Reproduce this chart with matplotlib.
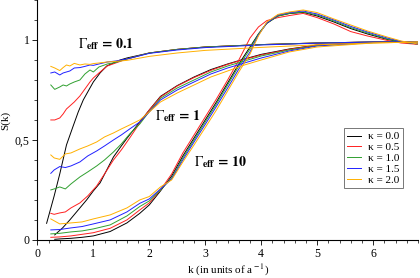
import matplotlib
matplotlib.use("Agg")
import matplotlib.pyplot as plt
from matplotlib.ticker import MultipleLocator

plt.rcParams['font.family'] = ['Liberation Serif', 'DejaVu Serif']
plt.rcParams['mathtext.fontset'] = 'stix'

kappas = ['0.0', '0.5', '1.0', '1.5', '2.0']
colors = ['black', '#ff2020', '#30a030', '#2020ff', '#ffb000']

# Gamma_eff = 0.1
k01 = [0.24, 0.31, 0.4, 0.46, 0.52, 0.58, 0.66, 0.76, 0.85, 0.94, 1.0, 1.1, 1.25, 1.4, 1.6, 2.0, 2.5, 3.0, 4.0, 5.0, 6.0, 6.8]
k01_black = [0.165, 0.3, 0.4, 0.52, 0.64, 0.73, 0.82, 0.91, 1.0, 1.12, 1.24, 1.36, 1.48, 1.6, 2.0, 2.5, 3.0, 4.0, 5.0, 6.0, 6.8]
s01_black = [0.083, 0.22, 0.33, 0.475, 0.57, 0.64, 0.70, 0.745, 0.79, 0.835, 0.87, 0.885, 0.90, 0.91, 0.935, 0.953, 0.965, 0.977, 0.985, 0.99, 0.99]
s01_red = [0.60, 0.60, 0.61, 0.63, 0.655, 0.67, 0.69, 0.72, 0.755, 0.79, 0.81, 0.835, 0.87, 0.885, 0.905, 0.935, 0.953, 0.965, 0.977, 0.985, 0.99, 0.99]
s01_green = [0.775, 0.753, 0.765, 0.775, 0.77, 0.78, 0.79, 0.80, 0.83, 0.85, 0.84, 0.865, 0.88, 0.888, 0.905, 0.935, 0.953, 0.965, 0.977, 0.985, 0.99, 0.99]
s01_blue = [0.835, 0.84, 0.825, 0.835, 0.84, 0.845, 0.86, 0.862, 0.868, 0.875, 0.873, 0.88, 0.89, 0.895, 0.905, 0.933, 0.95, 0.962, 0.975, 0.984, 0.99, 0.99]
s01_orange = [0.868, 0.86, 0.847, 0.862, 0.875, 0.87, 0.883, 0.875, 0.88, 0.878, 0.882, 0.885, 0.89, 0.893, 0.898, 0.918, 0.935, 0.948, 0.963, 0.976, 0.985, 0.99]

# Gamma_eff = 1
k1 = [0.24, 0.3, 0.4, 0.5, 0.6, 0.76, 0.9, 1.06, 1.2, 1.36, 1.5, 1.65, 1.83, 2.0, 2.2, 2.5, 2.8, 3.1, 3.4, 3.7, 4.0, 4.5, 5.0, 6.0, 6.8]
k1_black = [0.31, 0.45, 0.58, 0.73, 0.88, 1.0, 1.12, 1.24, 1.36, 1.5, 1.6, 1.83, 2.0, 2.2, 2.5, 2.8, 3.1, 3.4, 3.7, 4.0, 4.5, 5.0, 6.0, 6.8]
s1_black = [0.025, 0.06, 0.10, 0.15, 0.20, 0.245, 0.285, 0.35, 0.415, 0.47, 0.508, 0.59, 0.65, 0.718, 0.772, 0.815, 0.852, 0.88, 0.905, 0.928, 0.955, 0.975, 0.988, 0.99]
s1_red = [0.133, 0.128, 0.135, 0.14, 0.16, 0.185, 0.22, 0.27, 0.33, 0.40, 0.45, 0.51, 0.585, 0.65, 0.715, 0.77, 0.812, 0.848, 0.878, 0.903, 0.925, 0.953, 0.975, 0.988, 0.99]
s1_green = [0.25, 0.255, 0.265, 0.255, 0.28, 0.315, 0.34, 0.37, 0.40, 0.44, 0.48, 0.53, 0.58, 0.642, 0.708, 0.76, 0.80, 0.84, 0.87, 0.895, 0.92, 0.95, 0.972, 0.987, 0.99]
s1_blue = [0.333, 0.35, 0.367, 0.362, 0.37, 0.39, 0.42, 0.445, 0.47, 0.50, 0.525, 0.555, 0.59, 0.64, 0.70, 0.75, 0.79, 0.83, 0.86, 0.885, 0.91, 0.945, 0.97, 0.987, 0.99]
s1_orange = [0.425, 0.41, 0.403, 0.43, 0.435, 0.455, 0.47, 0.49, 0.515, 0.535, 0.555, 0.575, 0.60, 0.64, 0.69, 0.735, 0.775, 0.815, 0.845, 0.875, 0.90, 0.94, 0.965, 0.985, 0.99]

# Gamma_eff = 10
k10 = [0.24, 0.4, 0.6, 0.8, 1.0, 1.3, 1.6, 1.83, 2.0, 2.2, 2.4, 2.6, 2.8, 3.0, 3.2, 3.4, 3.6, 3.8, 3.95, 4.1, 4.3, 4.5, 4.75, 5.0, 5.3, 5.6, 5.9, 6.25, 6.5, 6.8]
k10_black = [0.31] + k10[1:]
s10_black = [0.003, 0.005, 0.008, 0.013, 0.02, 0.042, 0.085, 0.133, 0.175, 0.245, 0.32, 0.42, 0.51, 0.60, 0.69, 0.785, 0.88, 0.965, 1.03, 1.083, 1.12, 1.132, 1.138, 1.12, 1.09, 1.057, 1.03, 1.003, 0.99, 0.98]
s10_red = [0.013, 0.015, 0.02, 0.028, 0.036, 0.058, 0.10, 0.15, 0.185, 0.25, 0.33, 0.435, 0.525, 0.615, 0.705, 0.80, 0.90, 1.01, 1.065, 1.097, 1.112, 1.122, 1.133, 1.112, 1.08, 1.042, 1.02, 0.998, 0.985, 0.978]
s10_green = [0.03, 0.033, 0.04, 0.045, 0.055, 0.075, 0.12, 0.167, 0.195, 0.25, 0.31, 0.41, 0.50, 0.59, 0.68, 0.775, 0.87, 0.955, 1.03, 1.085, 1.12, 1.133, 1.14, 1.125, 1.095, 1.062, 1.035, 1.005, 0.99, 0.98]
s10_blue = [0.05, 0.052, 0.06, 0.067, 0.08, 0.10, 0.14, 0.183, 0.205, 0.255, 0.305, 0.40, 0.49, 0.578, 0.668, 0.76, 0.855, 0.94, 1.025, 1.085, 1.125, 1.137, 1.145, 1.13, 1.10, 1.068, 1.04, 1.01, 0.993, 0.98]
s10_orange = [0.105, 0.08, 0.085, 0.09, 0.105, 0.125, 0.16, 0.20, 0.217, 0.265, 0.30, 0.39, 0.475, 0.562, 0.65, 0.745, 0.84, 0.93, 1.02, 1.09, 1.128, 1.14, 1.15, 1.137, 1.105, 1.075, 1.045, 1.015, 0.995, 0.98]

fig = plt.figure(figsize=(4.2, 2.78), dpi=100)
ax = fig.add_axes([0.089, 0.137, 0.906, 0.863])

fam01 = [(k01_black, s01_black), (k01, s01_red), (k01, s01_green), (k01, s01_blue), (k01, s01_orange)]
fam1 = [(k1_black, s1_black), (k1, s1_red), (k1, s1_green), (k1, s1_blue), (k1, s1_orange)]
fam10 = [(k10_black, s10_black), (k10, s10_red), (k10, s10_green), (k10, s10_blue), (k10, s10_orange)]

for i in range(5):
    for fam in (fam01, fam1, fam10):
        kk, ss = fam[i]
        lab = 'κ = ' + kappas[i] if fam is fam01 else None
        ax.plot(kk, ss, color=colors[i], lw=0.7, label=lab)

ax.set_xlim(0, 6.8)
ax.set_ylim(0, 1.2)
ax.set_xticks(range(7))
ax.set_yticks([0, 0.5, 1])
ax.set_yticklabels(['0', '0,5', '1'])
ax.xaxis.set_minor_locator(MultipleLocator(0.2))
ax.yaxis.set_minor_locator(MultipleLocator(0.1))
ax.tick_params(which='major', length=3.5, width=0.6, labelsize=8.5, pad=2)
ax.tick_params(which='minor', length=2.2, width=0.5)
for s in ['top', 'right']:
    ax.spines[s].set_visible(False)
for s in ['left', 'bottom']:
    ax.spines[s].set_linewidth(0.8)

ax.set_xlabel('k (in units of a$^{\\rm -1}$)', fontsize=8, labelpad=2)
ax.set_ylabel('S(k)', fontsize=8, labelpad=3)

txt = dict(fontsize=10, va='center', ha='left')
ax.text(0.72, 0.98, '$\\Gamma_{\\mathbf{eff}}\\mathbf{\\,=\\,0.1}$', **txt)
ax.text(2.1, 0.62, '$\\Gamma_{\\mathbf{eff}}\\mathbf{\\,=\\,1}$', **txt)
ax.text(2.79, 0.39, '$\\Gamma_{\\mathbf{eff}}\\mathbf{\\,=\\,10}$', **txt)

leg = ax.legend(loc='upper right', bbox_to_anchor=(0.96, 0.465), fontsize=8,
                fancybox=False, edgecolor='#555555', handlelength=1.3,
                handletextpad=0.6, labelspacing=0.1, borderpad=0.3, borderaxespad=0)
leg.get_frame().set_linewidth(0.7)

fig.savefig('out.png', dpi=100)
